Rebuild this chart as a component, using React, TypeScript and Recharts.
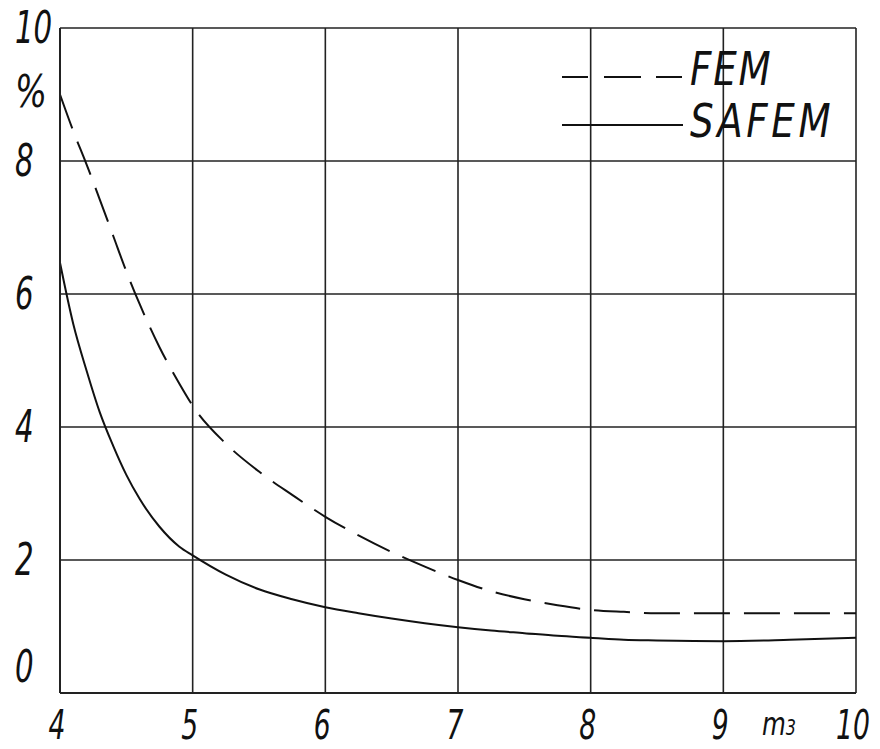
import React from "react";
import { LineChart, Line, XAxis, YAxis, CartesianGrid } from "recharts";

const xValues = [4.0, 4.1, 4.2, 4.3, 4.4, 4.5, 4.6, 4.75, 4.9, 5.0, 5.25, 5.5, 5.75, 6.0, 6.25, 6.5, 6.75, 7.0, 7.25, 7.5, 7.75, 8.0, 8.25, 8.5, 9.0, 9.5, 10.0];
const femValues = [9.0, 8.45, 7.95, 7.42, 6.88, 6.34, 5.85, 5.2, 4.65, 4.32, 3.75, 3.33, 2.98, 2.65, 2.37, 2.12, 1.9, 1.7, 1.53, 1.41, 1.32, 1.25, 1.22, 1.2, 1.2, 1.2, 1.2];
const safemValues = [6.47, 5.55, 4.85, 4.22, 3.72, 3.28, 2.92, 2.5, 2.2, 2.07, 1.78, 1.56, 1.41, 1.29, 1.2, 1.12, 1.05, 0.99, 0.94, 0.9, 0.86, 0.83, 0.8, 0.79, 0.78, 0.8, 0.83];
const xTicks = [4, 5, 6, 7, 8, 9, 10];
const yTicks = [0, 2, 4, 6, 8, 10];
const seriesNames = ["FEM", "SAFEM"];
const xAxisName = "m";
const xAxisSub = "3";
const yAxisName = "%";

const data = xValues.map((x, i) => ({ x, fem: femValues[i], safem: safemValues[i] }));

const FONT = "'DejaVu Sans Condensed', 'DejaVu Sans', sans-serif";
const INK = "#111";
const SQUEEZE = 0.74;

const YTick = (props: any) => {
  const { y, payload } = props;
  const dy = payload.value === 0 ? -26 : 0;
  return (
    <text
      transform={`translate(15, ${y + dy}) scale(${SQUEEZE}, 1)`}
      x={0}
      y={0}
      dominantBaseline="central"
      textAnchor="start"
      fontFamily={FONT}
      fontStyle="italic"
      fontSize={44}
      fill={INK}
    >
      {payload.value}
    </text>
  );
};

const XTick = (props: any) => {
  const { x, payload } = props;
  return (
    <text
      transform={`translate(${x - 3}, 725) scale(${SQUEEZE}, 1)`}
      x={0}
      y={0}
      dominantBaseline="central"
      textAnchor="middle"
      fontFamily={FONT}
      fontStyle="italic"
      fontSize={40}
      fill={INK}
    >
      {payload.value}
    </text>
  );
};

const XLabel = (props: any) => {
  const vb = props.viewBox || {};
  const px = vb.x + (vb.width * (9.42 - 4)) / 6;
  return (
    <text transform={`translate(${px}, 735) scale(0.85, 1)`} x={0} y={0} textAnchor="middle" fontFamily={FONT} fontStyle="italic" fill={INK}>
      <tspan fontSize={32}>{xAxisName}</tspan>
      <tspan fontSize={21}>{xAxisSub}</tspan>
    </text>
  );
};

const YLabel = () => (
  <text transform={`translate(15, 92) scale(0.85, 1)`} x={0} y={0} dominantBaseline="central" textAnchor="start" fontFamily={FONT} fontStyle="italic" fontSize={44} fill={INK}>
    {yAxisName}
  </text>
);

export default function App() {
  return (
    <div style={{ position: "absolute", left: 0, top: 0, width: 880, height: 749, background: "#fff" }}>
      <LineChart width={880} height={749} data={data} margin={{ top: 28, right: 24, bottom: 0, left: 0 }}>
        <CartesianGrid stroke="#222" strokeWidth={1.6} />
        <XAxis
          dataKey="x"
          type="number"
          domain={[4, 10]}
          ticks={xTicks}
          height={56}
          tickLine={false}
          axisLine={{ stroke: "#222", strokeWidth: 2 }}
          tick={<XTick />}
          label={<XLabel />}
          interval={0}
        />
        <YAxis
          type="number"
          domain={[0, 10]}
          ticks={yTicks}
          width={60}
          tickLine={false}
          axisLine={{ stroke: "#222", strokeWidth: 2 }}
          tick={<YTick />}
          label={<YLabel />}
          interval={0}
        />
        <Line dataKey="fem" name={seriesNames[0]} type="monotone" stroke={INK} strokeWidth={2} strokeDasharray="36 14" dot={false} isAnimationActive={false} />
        <Line dataKey="safem" name={seriesNames[1]} type="monotone" stroke={INK} strokeWidth={2} dot={false} isAnimationActive={false} />
      </LineChart>
      <svg width={320} height={110} style={{ position: "absolute", left: 560, top: 40 }}>
        <line x1={2} y1={37} x2={123} y2={37} stroke={INK} strokeWidth={2} strokeDasharray="26 16 37 15" />
        <text transform="translate(130, 45) scale(0.9, 1)" x={0} y={0} fontFamily={FONT} fontStyle="italic" fontSize={46} fill={INK} letterSpacing={2}>{seriesNames[0]}</text>
        <line x1={2} y1={85} x2={123} y2={85} stroke={INK} strokeWidth={2} />
        <text transform="translate(130, 97) scale(0.9, 1)" x={0} y={0} fontFamily={FONT} fontStyle="italic" fontSize={46} fill={INK} letterSpacing={4}>{seriesNames[1]}</text>
      </svg>
    </div>
  );
}
